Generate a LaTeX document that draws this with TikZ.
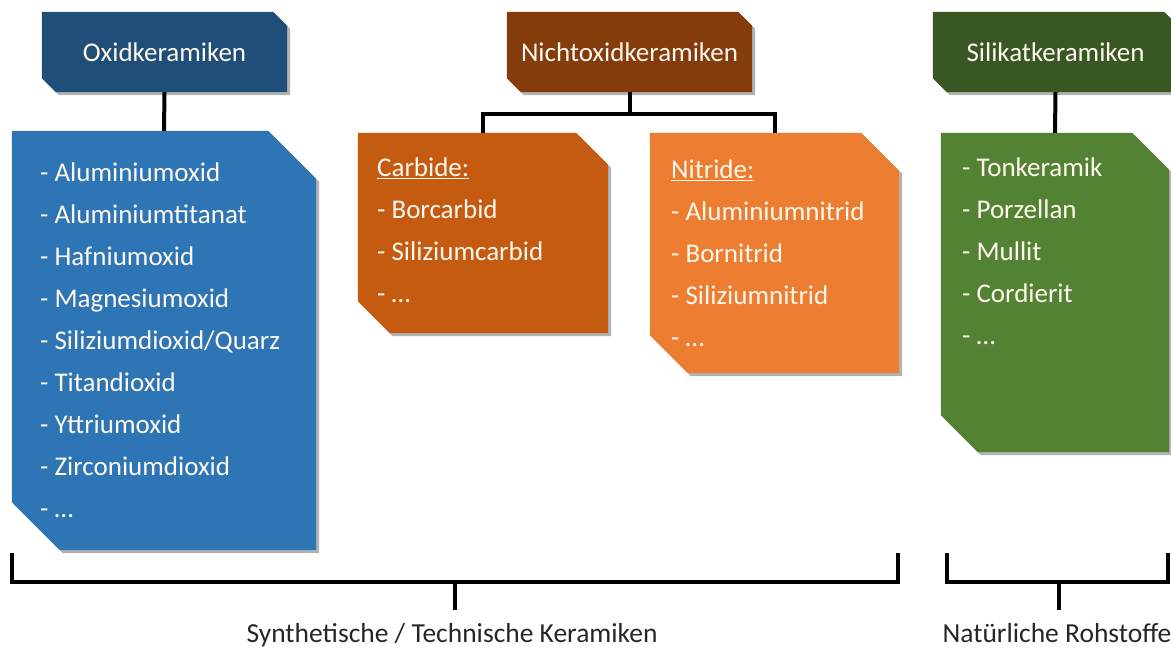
\documentclass[tikz,border=0pt]{standalone}
\usepackage{fontspec}
\setmainfont{Carlito}
\usepackage{tikz}
\usetikzlibrary{positioning, calc, shadows, backgrounds}
\usepackage{xcolor}

\definecolor{oxdark}{HTML}{1F4E79}
\definecolor{oxlight}{HTML}{2E75B6}
\definecolor{nodark}{HTML}{843C0C}
\definecolor{nomid}{HTML}{C55A11}
\definecolor{nolight}{HTML}{ED7D31}
\definecolor{sidark}{HTML}{385723}
\definecolor{silight}{HTML}{548235}
\definecolor{txtcream}{HTML}{FFF8EE}

\tikzset{
  boxshadow/.style={drop shadow={shadow xshift=3pt, shadow yshift=-3pt, opacity=0.3, fill=black}},
  headbox/.style={rectangle, inner sep=0pt, minimum width=245pt, minimum height=80pt,
    text=txtcream, font=\fontsize{27}{32}\selectfont},
  listbox/.style={rectangle, inner sep=0pt},
  listtxt/.style={anchor=north west, inner sep=0pt, align=left, text=txtcream,
    font=\fontsize{27}{42}\selectfont},
  conn/.style={line width=4pt, black},
  braclabel/.style={anchor=base, inner sep=0pt, text=black!85,
    font=\fontsize{27.5}{32}\selectfont}
}

% Kasten mit abgeschraegten Ecken (oben rechts, unten links)
\newcommand{\snipfill}[3]{%
  \fill[#3, boxshadow] (#1.north west) -- ($(#1.north east)+(-#2,0)$)
    -- ($(#1.north east)+(0,#2)$) -- (#1.south east)
    -- ($(#1.south west)+(#2,0)$) -- ($(#1.south west)+(0,-#2)$) -- cycle;}

\begin{document}
\begin{tikzpicture}[x=1pt, y=-1pt]
  \useasboundingbox (0,0) rectangle (1171,648);
  \clip (0,0) rectangle (1171,648);

  % Kopfzeilen
  \node[headbox] (oxhead) at (164.5,52) {Oxidkeramiken};
  \node[headbox] (nohead) at (629.5,52) {Nichtoxidkeramiken};
  \node[headbox] (sihead) at (1055.5,52) {Silikatkeramiken};

  % Listenkaesten
  \node[listbox, minimum width=304pt, minimum height=419pt] (oxbox) at (164,340.5) {};
  \node[listbox, minimum width=250pt, minimum height=200pt] (cbbox) at (483,233) {};
  \node[listbox, minimum width=249pt, minimum height=240pt] (nibox) at (774.5,253) {};
  \node[listbox, minimum width=228pt, minimum height=319pt] (sibox) at (1055,292.5) {};

  \begin{scope}[on background layer]
    \clip (0,0) rectangle (1171,648);
    \snipfill{oxhead}{14}{oxdark}
    \snipfill{nohead}{14}{nodark}
    \snipfill{sihead}{14}{sidark}
    \snipfill{oxbox}{48}{oxlight}
    \snipfill{cbbox}{32}{nomid}
    \snipfill{nibox}{38}{nolight}
    \snipfill{sibox}{37}{silight}
  \end{scope}

  \node[listtxt] (oxlist) at (40,163)
    {- Aluminiumoxid\\- Aluminiumtitanat\\- Hafniumoxid\\- Magnesiumoxid\\
     - Siliziumdioxid/Quarz\\- Titandioxid\\- Yttriumoxid\\- Zirconiumdioxid\\- …};
  \node[listtxt] (cblist) at (377,158)
    {\underline{Carbide:}\\- Borcarbid\\- Siliziumcarbid\\- …};
  \node[listtxt] (nilist) at (671,160)
    {\underline{Nitride:}\\- Aluminiumnitrid\\- Bornitrid\\- Siliziumnitrid\\- …};
  \node[listtxt] (silist) at (962,158)
    {- Tonkeramik\\- Porzellan\\- Mullit\\- Cordierit\\- …};

  % Verbindungen
  \draw[conn] (oxhead.south) -- (oxbox.north);
  \draw[conn] (sihead.south) -- (sibox.north);
  \draw[conn] (nohead.south) -- ++(0,22) coordinate (nofork);
  \draw[conn] (cbbox.north) |- (nofork) -| (nibox.north);

  % Klammern unten
  \coordinate (synleft) at (12,553);
  \coordinate (synright) at (898,553);
  \coordinate (syntick) at (455,582);
  \coordinate (natleft) at (947,553);
  \coordinate (natright) at (1168,553);
  \coordinate (nattick) at (1059,582);
  \draw[conn] (synleft) |- (syntick) -| (synright);
  \draw[conn] (natleft) |- (nattick) -| (natright);
  \node[braclabel] (synlab) at (452,642) {Synthetische / Technische Keramiken};
  \node[braclabel] (natlab) at (1057,642) {Natürliche Rohstoffe};
  \draw[conn] (syntick) -- ++(0,28);
  \draw[conn] (nattick) -- ++(0,28);
\end{tikzpicture}
\end{document}
